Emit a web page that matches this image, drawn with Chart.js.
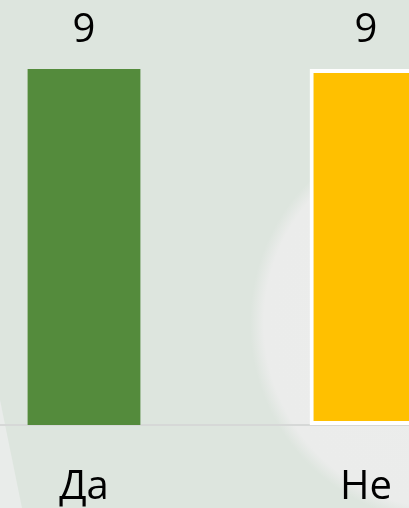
<!DOCTYPE html>
<html>
<head>
<meta charset="utf-8">
<script src="https://cdn.jsdelivr.net/npm/chart.js@4"></script>
<style>
    html, body {
        margin: 0;
        width: 409px;
        height: 508px;
        overflow: hidden;
    }
    body {
        position: relative;
        background:
            radial-gradient(circle 200px at 450px 323px, #ecedec 0, #ebeceb 93%, rgba(235,236,235,0) 100%),
            #dde5de;
    }
    #corner {
        position: absolute;
        left: 0;
        top: 0;
        width: 409px;
        height: 508px;
        background: #e9ecea;
        clip-path: polygon(0 400px, 22px 508px, 0 508px);
    }
    #wrap {
        position: absolute;
        left: -57px;
        top: 0;
        width: 564px;
        height: 508px;
    }
</style>
</head>
<body>
<div id="corner"></div>
<div id="wrap"><canvas id="chart" width="564" height="508"></canvas></div>
<script>
const categories = ['Да', 'Не'];
const values = [9, 9];
const barColors = ['#548b3c', '#ffc000'];
const barBorders = [0, 4];

// draws the value above each bar
const valueLabels = {
    id: 'valueLabels',
    afterDatasetsDraw(chart) {
        const ctx = chart.ctx;
        const meta = chart.getDatasetMeta(0);
        ctx.save();
        ctx.font = '40px "Open Sans"';
        ctx.fillStyle = '#000';
        ctx.textAlign = 'center';
        ctx.textBaseline = 'middle';
        meta.data.forEach((bar, i) => {
            ctx.fillText(String(values[i]), bar.x, bar.y - 38);
        });
        ctx.restore();
    }
};

const ctx = document.getElementById('chart').getContext('2d');
new Chart(ctx, {
    type: 'bar',
    data: {
        labels: categories,
        datasets: [{
            data: values,
            backgroundColor: barColors,
            borderColor: '#ffffff',
            borderWidth: barBorders,
            borderSkipped: false,
            barPercentage: 0.5,
            categoryPercentage: 0.8
        }]
    },
    options: {
        responsive: false,
        animation: false,
        layout: {
            padding: { top: 69, left: 0, right: 0, bottom: 0 }
        },
        scales: {
            y: {
                display: false,
                min: 0,
                max: 9
            },
            x: {
                grid: { display: false, drawTicks: false },
                border: { display: true, color: '#d6d8d7', width: 2 },
                ticks: {
                    color: '#000',
                    padding: 42,
                    font: { family: 'Open Sans', size: 40, lineHeight: 1.05 }
                },
                afterFit(scale) {
                    scale.height = 83;
                }
            }
        },
        plugins: {
            legend: { display: false },
            tooltip: { enabled: false }
        }
    },
    plugins: [valueLabels]
});
</script>
</body>
</html>
